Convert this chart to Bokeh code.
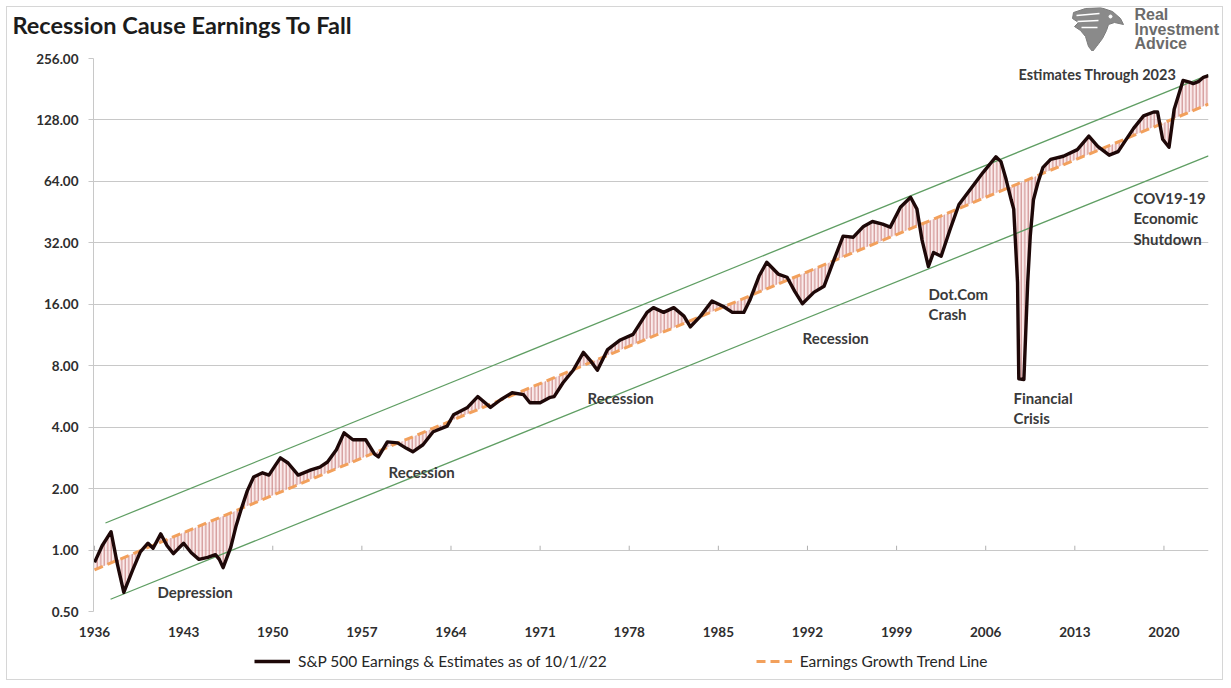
import numpy as np
from bokeh.plotting import figure
from bokeh.layouts import column
from bokeh.models import (Range1d, FixedTicker, PrintfTickFormatter, Legend, LegendItem)
from bokeh.core.properties import value
from bokeh.embed import file_html
from bokeh.resources import INLINE

# ---------------- data ----------------
years = [1936.0, 1936.6, 1937.3, 1937.8, 1938.3, 1939.0, 1939.6, 1940.2, 1940.6, 1941.2,
         1941.7, 1942.2, 1942.6, 1943.0, 1943.6, 1944.2, 1944.9, 1945.5, 1945.8, 1946.1,
         1946.7, 1947.1, 1947.5, 1948.0, 1948.5, 1949.2, 1949.7, 1950.2, 1950.6, 1951.2,
         1952.0, 1953.0, 1953.7, 1954.3, 1955.0, 1955.6, 1956.3, 1957.3, 1958.0, 1958.3,
         1959.0, 1959.8, 1960.5, 1961.0, 1961.8, 1962.6, 1963.7, 1964.2, 1965.3, 1966.1,
         1967.1, 1967.9, 1968.8, 1969.7, 1970.2, 1971.0, 1971.8, 1972.1, 1972.8, 1973.6,
         1974.4, 1975.0, 1975.5, 1976.3, 1977.3, 1978.3, 1979.4, 1979.9, 1980.7, 1981.5,
         1982.3, 1982.8, 1983.6, 1984.5, 1985.4, 1986.1, 1987.0, 1987.5, 1988.2, 1988.8,
         1989.7, 1990.4, 1991.0, 1991.6, 1992.5, 1993.3, 1994.1, 1994.8, 1995.6, 1996.4,
         1997.1, 1997.9, 1998.5, 1999.3, 2000.1, 2000.6, 2001.0, 2001.5, 2001.9, 2002.5,
         2003.2, 2003.9, 2004.8, 2005.8, 2006.8, 2007.2, 2007.6, 2008.0, 2008.2, 2008.5,
         2008.6, 2009.0, 2009.3, 2009.5, 2009.75, 2010.1, 2010.5, 2011.1, 2012.1, 2013.2,
         2014.1, 2014.8, 2015.7, 2016.4, 2017.0, 2017.6, 2018.4, 2019.2, 2019.5, 2019.9,
         2020.4, 2020.8, 2021.5, 2022.0, 2022.3, 2022.7, 2023.1, 2023.5]
earnings = [0.87, 1.05, 1.23, 0.85, 0.62, 0.80, 0.98, 1.08, 1.02, 1.20,
            1.05, 0.96, 1.02, 1.08, 0.97, 0.90, 0.92, 0.95, 0.90, 0.82,
            1.03, 1.30, 1.57, 1.95, 2.28, 2.39, 2.33, 2.60, 2.83, 2.67,
            2.33, 2.47, 2.55, 2.70, 3.10, 3.75, 3.47, 3.47, 2.95, 2.86,
            3.39, 3.35, 3.15, 3.03, 3.28, 3.80, 4.05, 4.60, 5.00, 5.65,
            5.00, 5.45, 5.90, 5.77, 5.27, 5.27, 5.60, 5.65, 6.60, 7.60,
            9.30, 8.40, 7.60, 9.60, 10.7, 11.4, 14.6, 15.4, 14.6, 15.4,
            14.0, 12.4, 14.0, 16.6, 15.6, 14.6, 14.6, 16.9, 22.0, 25.7,
            22.5, 21.7, 18.5, 16.1, 18.3, 19.6, 26.6, 34.5, 34.1, 38.5,
            40.7, 39.5, 38.2, 47.8, 53.5, 46.8, 33.0, 24.5, 28.7, 27.5,
            37.2, 49.3, 58.6, 70.9, 84.5, 80.0, 65.5, 52.0, 46.8, 20.5,
            6.90, 6.85, 20.5, 34.5, 52.0, 63.0, 75.0, 82.0, 85.0, 91.6,
            106.6, 95.0, 86.0, 89.5, 102.0, 116.0, 134.0, 140.0, 140.0, 103.0,
            94.0, 144.0, 200.0, 196.0, 193.0, 197.0, 207.0, 211.0]

trend_years = [1936.0, 2023.5]
trend_values = [0.80, 153.0]
upper_years = [1936.86, 2023.5]
upper_values = [1.357, 213.0]
lower_years = [1937.26, 2023.5]
lower_values = [0.574, 85.4]

x_tick_years = [1936, 1943, 1950, 1957, 1964, 1971, 1978, 1985, 1992, 1999, 2006, 2013, 2020]
x_tick_labels = ["1936", "1943", "1950", "1957", "1964", "1971", "1978", "1985",
                 "1992", "1999", "2006", "2013", "2020"]
y_ticks = [0.5, 1, 2, 4, 8, 16, 32, 64, 128, 256]

title_text = "Recession Cause Earnings To Fall"
logo_lines = ["Real", "Investment", "Advice"]
series_name = "S&P 500 Earnings & Estimates as of 10/1//22"
trend_name = "Earnings Growth Trend Line"

# ---------------- layout geometry (page pixels) ----------------
OFF = 7                      # 6px margin + 1px border
W = 1215                     # inner width of every figure
HDR_TOP, HDR_BOT = 7, 51     # header band
FL, FR, FT, FB = 93, 1208, 58, 611   # plot frame
MAIN_BOT = 640               # bottom of the chart figure
FTR_BOT = 679                # bottom of the legend band
X0, X1 = 1935.92, 2023.5
Y0, Y1 = 0.5, 256.0
FONT = "Lato"
TXT = "#3a3a3a"
EARN_STYLE = dict(line_color="#1e0808", line_width=3.4, line_join="round")
TREND_STYLE = dict(line_color="#f2a05c", line_width=3, line_dash="9 5")


def band(height):
    f = figure(width=W, height=height, x_range=Range1d(0, W), y_range=Range1d(height, 0),
               x_axis_location=None, y_axis_location=None, min_border=0,
               min_border_left=0, min_border_right=0, min_border_top=0, min_border_bottom=0,
               toolbar_location=None, output_backend="svg")
    f.grid.visible = False
    f.outline_line_color = None
    f.frame_align = False
    return f


# ---------------- header (title + logo) ----------------
hdr = band(HDR_BOT - HDR_TOP)
hdr.text(x=[12 - OFF], y=[24 - HDR_TOP], text=[title_text], text_font=value(FONT),
         text_font_style="bold", text_font_size=value("23.5px"), text_color="#1c1c1c",
         text_baseline="middle")
hdr.text(x=[1134 - OFF] * 3, y=[14 - HDR_TOP, 28.5 - HDR_TOP, 42.5 - HDR_TOP], text=logo_lines,
         text_font=value("Liberation Sans"), text_font_style="bold",
         text_font_size=value("16px"), text_color="#6b6b6b", text_baseline="middle")
ex = [1073, 1085, 1100, 1112, 1120, 1123, 1114, 1108, 1106, 1102, 1096, 1092, 1088,
      1085, 1080, 1074, 1078, 1072]
ey = [12, 8, 7, 11, 18, 24, 22, 24, 30, 38, 46, 51, 46, 36, 30, 26, 22, 18]
hdr.patch([v - OFF for v in ex], [v - HDR_TOP for v in ey], fill_color="#8a8a8a",
          line_color="#7c7c7c")
hdr.multi_line([[1076 - OFF, 1099 - OFF], [1077 - OFF, 1098 - OFF], [1081 - OFF, 1097 - OFF]],
               [[15 - HDR_TOP, 13 - HDR_TOP], [21 - HDR_TOP, 20 - HDR_TOP],
                [27 - HDR_TOP, 27 - HDR_TOP]], line_color="white", line_width=1.6)
hdr.scatter([1110 - OFF], [16 - HDR_TOP], size=3, color="white")

# ---------------- main chart ----------------
p = figure(frame_width=FR - FL, frame_height=FB - FT,
           min_border_left=FL - OFF, min_border_right=W - (FR - OFF),
           min_border_top=FT - HDR_BOT, min_border_bottom=MAIN_BOT - FB,
           y_axis_type="log", x_range=Range1d(X0, X1), y_range=Range1d(Y0, Y1),
           output_backend="svg", toolbar_location=None,
           background_fill_color="white", border_fill_color="white")
p.outline_line_color = None

p.xgrid.visible = False
p.ygrid.ticker = FixedTicker(ticks=y_ticks, minor_ticks=[])
p.ygrid.grid_line_color = "#c8c8c8"

yax = p.yaxis[0]
yax.ticker = FixedTicker(ticks=y_ticks, minor_ticks=[])
yax.formatter = PrintfTickFormatter(format="%.2f")
yax.axis_line_color = "#c8c8c8"
yax.major_tick_line_color = "#c8c8c8"
yax.major_tick_out = 5
yax.major_tick_in = 0
yax.minor_tick_out = 0
yax.minor_tick_in = 0
yax.major_label_standoff = 10
yax.major_label_text_font = FONT
yax.major_label_text_font_style = "bold"
yax.major_label_text_font_size = "13.5px"
yax.major_label_text_color = "#2e2e2e"

xax = p.xaxis[0]
xax.ticker = FixedTicker(ticks=x_tick_years, minor_ticks=[])
xax.major_label_overrides = {t: l for t, l in zip(x_tick_years, x_tick_labels)}
xax.axis_line_color = None
xax.major_tick_line_color = None
xax.minor_tick_line_color = None
xax.major_label_standoff = 9
xax.major_label_text_font = FONT
xax.major_label_text_font_style = "bold"
xax.major_label_text_font_size = "13.5px"
xax.major_label_text_color = "#2e2e2e"

# small tick marks on the horizontal axis, which crosses at 1.0
p.segment(x0=x_tick_years, y0=[1.0] * len(x_tick_years), x1=x_tick_years,
          y1=[1.05] * len(x_tick_years), line_color="#b0b0b0", line_width=1)

# trend evaluated at each data year (a straight line in log space)
yrs = np.array(years)
lt0, lt1 = np.log2(trend_values[0]), np.log2(trend_values[1])
trend_at = 2 ** (lt0 + (yrs - trend_years[0]) / (trend_years[1] - trend_years[0]) * (lt1 - lt0))

p.varea(x=years, y1=earnings, y2=trend_at, fill_color="#f6dede", fill_alpha=0.6,
        hatch_pattern="vertical_line", hatch_color="#bf6f6f", hatch_scale=3.5,
        hatch_weight=1, hatch_alpha=0.85)

p.line(upper_years, upper_values, line_color="#5f9e63", line_width=1.3)
p.line(lower_years, lower_values, line_color="#5f9e63", line_width=1.3)

p.line(trend_years, trend_values, **TREND_STYLE)
p.line(years, earnings, **EARN_STYLE)


def px_x(px):
    return X0 + (px - FL) / (FR - FL) * (X1 - X0)


def px_y(py):
    return 2 ** (np.log2(Y0) + (FB - py) / (FB - FT) * (np.log2(Y1) - np.log2(Y0)))


notes = [("Depression", 157, 591), ("Recession", 388, 471), ("Recession", 587, 397),
         ("Recession", 802, 337), ("Dot.Com", 928, 293), ("Crash", 928, 313),
         ("Financial", 1013, 397), ("Crisis", 1013, 417), ("COV19-19", 1133, 197),
         ("Economic", 1133, 217), ("Shutdown", 1133, 238)]
p.text(x=[px_x(n[1]) for n in notes], y=[px_y(n[2]) for n in notes],
       text=[n[0] for n in notes], text_font=value(FONT), text_font_style="bold",
       text_font_size=value("15px"), text_color=TXT, text_baseline="middle")
p.text(x=[px_x(1018)], y=[px_y(74)], text=["Estimates Through 2023"],
       text_font=value(FONT), text_font_style="bold", text_font_size=value("14.5px"),
       text_color=TXT, text_baseline="middle")

# ---------------- legend band ----------------
FH = FTR_BOT - MAIN_BOT
ftr = band(FH)
ftr.y_range = Range1d(0, FH)
nan = float("nan")
k1 = ftr.line([nan], [nan], **EARN_STYLE)      # legend proxies (draw nothing)
k2 = ftr.line([nan], [nan], **TREND_STYLE)
legend = Legend(items=[LegendItem(label=series_name, renderers=[k1]),
                       LegendItem(label=trend_name, renderers=[k2])],
                orientation="horizontal", location=(254 - OFF, (FTR_BOT - 662) - 9),
                spacing=149, glyph_width=36, glyph_height=20, label_standoff=8,
                label_text_font=FONT, label_text_font_size="15.5px",
                label_text_color="#262626", border_line_color=None,
                background_fill_alpha=0, padding=4, margin=0)
ftr.add_layout(legend)

layout = column(hdr, p, ftr, spacing=0,
                styles={"margin": "6px", "border": "1px solid #d6d6d6"})

open("out.html", "w").write(file_html(layout, INLINE))
